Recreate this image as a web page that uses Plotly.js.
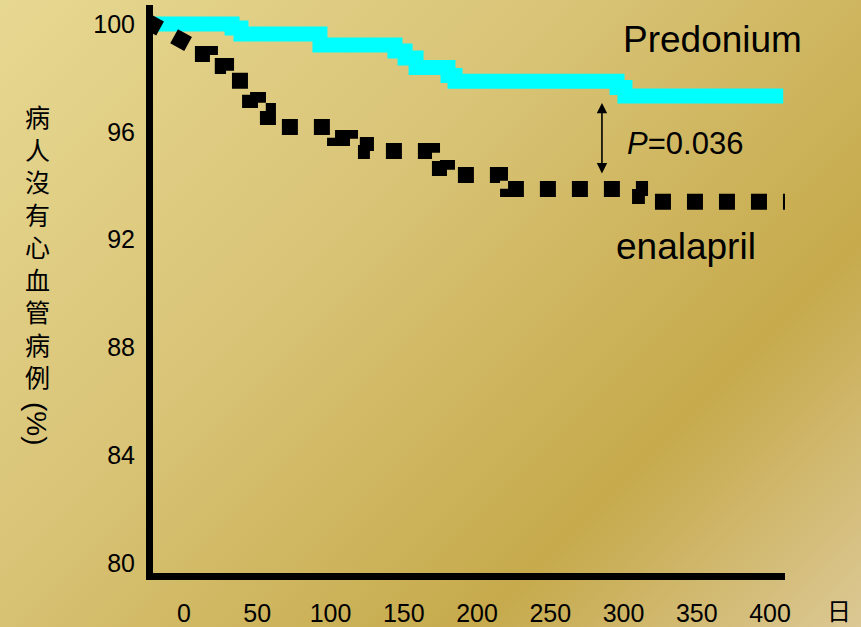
<!DOCTYPE html>
<html>
<head>
<meta charset="utf-8">
<script src="https://cdn.plot.ly/plotly-3.0.1.min.js"></script>
<style>
  html, body { margin: 0; padding: 0; }
  #chart {
    width: 861px; height: 627px;
    background: linear-gradient(135deg, #e7d891 0%, #d9c477 38%, #c6aa4c 74%, #dcc894 100%);
  }
</style>
</head>
<body>
<div id="chart"></div>
<script>
// Event-free survival (%) by day, two treatment groups
const dayTicks = [0, 50, 100, 150, 200, 250, 300, 350, 400];
const pctTicks = [80, 84, 88, 92, 96, 100];

// Predonium: start, drop days and the level after each drop, last follow-up day
const predStartDay = -26.6;
const predStartPct = 100.0;
const predDays = [32.8, 38.9, 92.8, 144.0, 150.9, 158.4, 180.2, 185.0, 295.6, 301.0];
const predPct  = [99.85, 99.63, 99.22, 99.0, 98.74, 98.39, 98.09, 97.88, 97.64, 97.33];
const predEndDay = 409;

// enalapril: start, early sloped section end, then step drops
const enaStartDay = -25.9;
const enaStartPct = 100.12;
const enaSlopeEndDay = 4.1;
const enaSlopeEndPct = 99.22;
const enaDays = [4.1, 17.7, 28.7, 38.2, 45.1, 50.5, 57.3, 103.1, 113.3, 124.2, 169.3, 174.7, 179.5, 215.7, 221.2, 311.3, 318.1];
const enaPct  = [98.89, 98.44, 98.22, 97.55, 97.18, 96.77, 96.18, 95.77, 95.51, 95.29, 95.07, 94.66, 94.40, 94.14, 93.88, 93.62, 93.40];
const enaEndDay = 413;

const yTitleChars = ['病', '人', '沒', '有', '心', '血', '管', '病', '例'];
const yTitleUnit = '(%)';
const xUnit = '日';
const pLabel = '<i>P</i>=0.036';

// Predonium step curve
const predX = [predStartDay].concat(predDays, [predEndDay]);
const predY = [predStartPct].concat(predPct, [predPct[predPct.length - 1]]);

// enalapril: sloped start, then horizontal-then-vertical steps
const enaX = [enaStartDay, enaSlopeEndDay];
const enaY = [enaStartPct, enaSlopeEndPct];
let prev = enaSlopeEndPct;
enaDays.forEach((d, i) => {
  enaX.push(d, d);
  enaY.push(prev, enaPct[i]);
  prev = enaPct[i];
});
enaX.push(enaEndDay);
enaY.push(prev);

// plot-area edges in page pixels, used to place free text
const L = 153, R = 785, T = 5, B = 573;
const fx = x => (x - L) / (R - L);
const fy = y => (B - y) / (B - T);

const sans = 'Liberation Sans, Arial, sans-serif';
const cjk = 'Noto Sans CJK TC, Noto Sans CJK SC, sans-serif';

const traces = [
  {
    x: predX, y: predY, mode: 'lines', name: 'Predonium',
    line: { color: '#00ffff', width: 15, shape: 'hv' }
  },
  {
    x: enaX, y: enaY, mode: 'lines', name: 'enalapril',
    line: { color: '#000000', width: 16, dash: '16px,16px', shape: 'linear' }
  }
];

function paperText(text, px, py, size, family, extra) {
  return Object.assign({
    text: text, xref: 'paper', yref: 'paper', x: fx(px), y: fy(py),
    xanchor: 'left', yanchor: 'middle', showarrow: false,
    font: { family: family, size: size, color: '#000' }
  }, extra || {});
}

const annotations = [
  paperText('Predonium', 621, 40, 37, sans),
  paperText(pLabel, 625, 144, 31, sans),
  paperText('enalapril', 614, 246, 37, sans),
  paperText(xUnit, 839, 609, 24, cjk, { xanchor: 'center' }),
  // vertical axis title: stacked characters, then the rotated unit
  paperText(yTitleChars.join('<br>'), 37, 246, 25, cjk, { xanchor: 'center' }),
  paperText(yTitleUnit, 37, 424, 28, sans, { xanchor: 'center', textangle: 90 }),
  // double-headed arrow marking the gap between the curves
  { x: 285.3, y: 97.07, ax: 285.3, ay: 94.40, axref: 'x', ayref: 'y', xref: 'x', yref: 'y',
    text: '', showarrow: true, arrowside: 'end+start', arrowhead: 2, arrowsize: 1.3,
    arrowwidth: 1.6, arrowcolor: '#000', standoff: 0, startstandoff: 0 }
];

const layout = {
  width: 861, height: 627,
  margin: { l: L, r: 861 - R, t: T, b: 627 - B, pad: 0 },
  paper_bgcolor: 'rgba(0,0,0,0)',
  plot_bgcolor: 'rgba(0,0,0,0)',
  showlegend: false,
  hovermode: false,
  xaxis: {
    range: [(L - 184) / 1.465, (R - 184) / 1.465],
    tickvals: dayTicks, ticktext: dayTicks.map(String),
    showgrid: false, zeroline: false,
    showline: true, linecolor: '#000', linewidth: 7,
    ticks: 'outside', ticklen: 12, tickcolor: 'rgba(0,0,0,0)',
    tickfont: { family: sans, size: 25, color: '#000' }
  },
  yaxis: {
    range: [100 - (B - 24) / 26.95, 100 + (24 - T) / 26.95],
    tickvals: pctTicks, ticktext: pctTicks.map(String),
    showgrid: false, zeroline: false,
    showline: true, linecolor: '#000', linewidth: 7,
    ticks: 'outside', ticklen: 6, tickcolor: 'rgba(0,0,0,0)',
    tickfont: { family: sans, size: 25, color: '#000' }
  },
  annotations: annotations
};

Plotly.newPlot('chart', traces, layout, { staticPlot: true, displayModeBar: false });
</script>
</body>
</html>
